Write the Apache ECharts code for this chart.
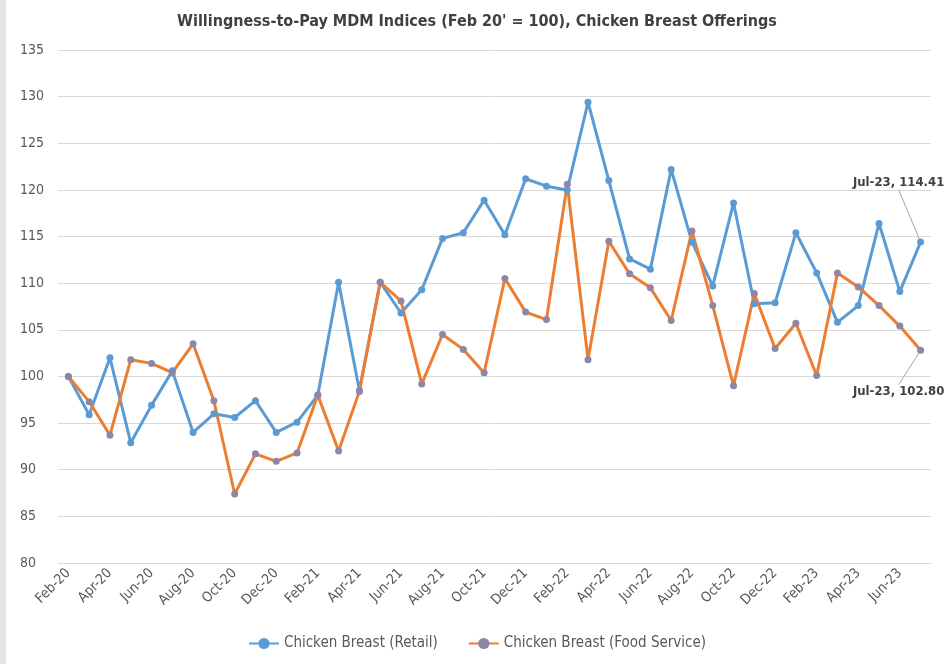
<!DOCTYPE html>
<html>
<head>
<meta charset="utf-8">
<script src="https://cdn.jsdelivr.net/npm/echarts@6/dist/echarts.min.js"></script>
<style>
  html, body { margin: 0; padding: 0; background: #fff; }
  #chart { width: 948px; height: 664px; box-sizing: border-box; border-left: 6px solid #e6e2ea; }
</style>
</head>
<body>
<div id="chart"></div>
<script>
  // monthly categories, Feb-20 .. Jul-23
  var months = ['Feb-20', 'Mar-20', 'Apr-20', 'May-20', 'Jun-20', 'Jul-20', 'Aug-20', 'Sep-20', 'Oct-20', 'Nov-20', 'Dec-20',
    'Jan-21', 'Feb-21', 'Mar-21', 'Apr-21', 'May-21', 'Jun-21', 'Jul-21', 'Aug-21', 'Sep-21', 'Oct-21', 'Nov-21', 'Dec-21',
    'Jan-22', 'Feb-22', 'Mar-22', 'Apr-22', 'May-22', 'Jun-22', 'Jul-22', 'Aug-22', 'Sep-22', 'Oct-22', 'Nov-22', 'Dec-22',
    'Jan-23', 'Feb-23', 'Mar-23', 'Apr-23', 'May-23', 'Jun-23', 'Jul-23'];

  var retail = [100, 95.9, 102.0, 92.9, 96.9, 100.6, 94.0, 96.0, 95.6, 97.4, 94.0,
    95.1, 98.0, 110.1, 98.5, 110.1, 106.8, 109.3, 114.8, 115.4, 118.9, 115.2, 121.2,
    120.4, 120.0, 129.4, 121.0, 112.6, 111.5, 122.2, 114.4, 109.7, 118.6, 107.8, 107.9,
    115.4, 111.1, 105.8, 107.6, 116.4, 109.1, 114.41];

  var foodService = [100, 97.3, 93.7, 101.8, 101.4, 100.4, 103.5, 97.4, 87.4, 91.7, 90.9,
    91.8, 98.0, 92.0, 98.4, 110.1, 108.1, 99.2, 104.5, 102.9, 100.4, 110.5, 106.9,
    106.1, 120.6, 101.8, 114.5, 111.0, 109.5, 106.0, 115.6, 107.6, 99.0, 108.9, 103.0,
    105.7, 100.1, 111.1, 109.6, 107.6, 105.4, 102.80];

  var font = '"Liberation Sans Narrow", "DejaVu Sans Condensed", sans-serif';

  // only the last point gets a data label
  function lastLabel(arr, pos) {
    return arr.map(function (v, i) {
      if (i !== arr.length - 1) return v;
      return {
        value: v,
        label: {
          show: true,
          position: pos,
          fontFamily: font,
          fontSize: 13,
          fontWeight: 'bold',
          color: '#404040',
          formatter: function (p) { return p.name + ', ' + p.value.toFixed(2); }
        },
        labelLine: { show: true, lineStyle: { color: '#a6a6a6', width: 1 } }
      };
    });
  }

  var myChart = echarts.init(document.getElementById('chart'));

  var option = {
    animation: false,
    title: {
      text: "Willingness-to-Pay MDM Indices (Feb 20' = 100), Chicken Breast Offerings",
      left: 'center',
      top: 9,
      textStyle: { fontFamily: font, fontSize: 16, fontWeight: 'bold', color: '#404040' }
    },
    legend: {
      bottom: 8,
      left: 'center',
      itemWidth: 30,
      itemGap: 30,
      textStyle: { fontFamily: font, fontSize: 15, color: '#595959' },
      data: ['Chicken Breast (Retail)', 'Chicken Breast (Food Service)']
    },
    grid: { left: 52, right: 17, top: 50, bottom: 101 },
    xAxis: {
      type: 'category',
      boundaryGap: true,
      data: months,
      axisLine: { lineStyle: { color: '#d9d9d9' } },
      axisTick: { show: false },
      axisLabel: {
        interval: 1,
        rotate: 45,
        margin: 8,
        fontFamily: font,
        fontSize: 14,
        color: '#595959'
      }
    },
    yAxis: {
      type: 'value',
      min: 80,
      max: 135,
      interval: 5,
      axisLine: { show: false },
      axisTick: { show: false },
      axisLabel: { fontFamily: font, fontSize: 14, color: '#595959', align: 'left', margin: 38 },
      splitLine: { lineStyle: { color: '#d9d9d9', width: 1 } }
    },
    series: [
      {
        name: 'Chicken Breast (Retail)',
        type: 'line',
        data: lastLabel(retail, 'top'),
        symbol: 'circle',
        symbolSize: 7,
        lineStyle: { color: '#5b9bd5', width: 3 },
        itemStyle: { color: '#5b9bd5' },
        labelLayout: { dx: -22, dy: -44 }
      },
      {
        name: 'Chicken Breast (Food Service)',
        type: 'line',
        data: lastLabel(foodService, 'bottom'),
        symbol: 'circle',
        symbolSize: 7,
        lineStyle: { color: '#ed7d31', width: 3 },
        itemStyle: { color: '#8e86a6' },
        labelLayout: { dx: -22, dy: 26 }
      }
    ]
  };

  myChart.setOption(option);
  window.addEventListener('resize', function () {
    myChart.resize();
  });
</script>
</body>
</html>
